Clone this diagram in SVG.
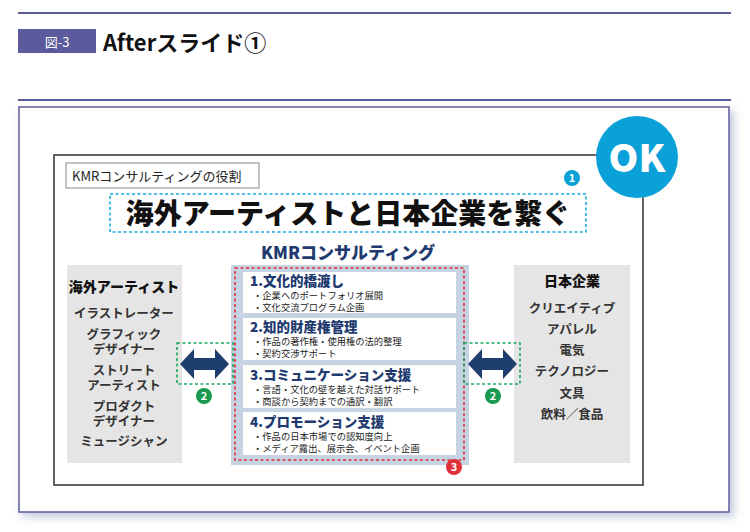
<svg xmlns="http://www.w3.org/2000/svg" width="750" height="532" viewBox="0 0 750 532">
<defs>
<style>
text{font-family:"Noto Sans CJK JP","Liberation Sans",sans-serif}
.rule{stroke:#5c5e9c;stroke-width:2}
.item{font-size:12.5px;font-weight:bold;fill:#333;text-anchor:middle}
.bh{font-size:13.5px;font-weight:900;fill:#1e3a6e}
.bl{font-size:9.3px;fill:#222}
.wb{fill:#fff}
.grn{fill:none;stroke:#1aa860;stroke-width:1.6;stroke-dasharray:3 2.5}
.num{font-size:11px;font-weight:bold;fill:#fff;text-anchor:middle}
.arr{fill:#1e3f6e}
</style>
<filter id="sh" x="-5%" y="-5%" width="115%" height="115%"><feDropShadow dx="4" dy="4" stdDeviation="4" flood-color="#8890c0" flood-opacity="0.5"/></filter>
</defs>
<rect width="750" height="532" fill="#fff"/>
<g id="header">
<line class="rule" x1="18" y1="13" x2="731" y2="13"/>
<line class="rule" x1="18" y1="100" x2="731" y2="100"/>
<rect x="18" y="29" width="78" height="24" fill="#5a5a9c"/>
<text x="57" y="47" font-size="13" fill="#fff" text-anchor="middle">図-3</text>
<text x="103" y="51" font-size="22" font-weight="bold" fill="#111">Afterスライド①</text>
</g>
<g id="frame">
<rect x="19" y="107" width="710" height="405" fill="#fff" stroke="#5c5e9c" stroke-width="1.5" filter="url(#sh)"/>
<rect x="54" y="155" width="589" height="330" fill="#fff" stroke="#333" stroke-width="1.5"/>
</g>
<g id="ok">
<circle cx="637" cy="157" r="41" fill="#0aa0d8"/>
<text x="637" y="172" font-size="38" font-weight="900" fill="#fff" text-anchor="middle" font-family="Liberation Sans,sans-serif">OK</text>
</g>
<g id="role-label">
<rect x="66" y="163" width="193" height="25" fill="#fff" stroke="#888" stroke-width="1"/>
<text x="72" y="181" font-size="13" fill="#222">KMRコンサルティングの役割</text>
</g>
<g id="headline">
<rect x="110" y="194" width="476" height="38" fill="none" stroke="#1aa8e0" stroke-width="1.6" stroke-dasharray="3 2.5"/>
<text x="348" y="224" font-size="28" font-weight="900" fill="#111" text-anchor="middle">海外アーティストと日本企業を繋ぐ</text>
<circle cx="572" cy="178" r="8" fill="#0aa0d8"/><text class="num" x="572" y="182">1</text>
</g>
<g id="left-panel">
<rect x="67" y="265" width="115" height="198" fill="#e5e5e5"/>
<text x="124" y="292" font-size="14" font-weight="900" fill="#111" text-anchor="middle">海外アーティスト</text>
<text class="item" x="124" y="318">イラストレーター</text>
<text class="item" x="124" y="339">グラフィック</text>
<text class="item" x="124" y="354">デザイナー</text>
<text class="item" x="124" y="375">ストリート</text>
<text class="item" x="124" y="390">アーティスト</text>
<text class="item" x="124" y="411">プロダクト</text>
<text class="item" x="124" y="426">デザイナー</text>
<text class="item" x="124" y="446">ミュージシャン</text>
</g>
<g id="right-panel">
<rect x="514" y="265" width="116" height="198" fill="#e5e5e5"/>
<text x="572" y="286" font-size="14" font-weight="900" fill="#111" text-anchor="middle">日本企業</text>
<text class="item" x="572" y="313">クリエイティブ</text>
<text class="item" x="572" y="334">アパレル</text>
<text class="item" x="572" y="355">電気</text>
<text class="item" x="572" y="376">テクノロジー</text>
<text class="item" x="572" y="398">文具</text>
<text class="item" x="572" y="419">飲料／食品</text>
</g>
<g id="center">
<text x="348" y="259" font-size="17" font-weight="900" fill="#1e3a6e" text-anchor="middle">KMRコンサルティング</text>
<rect x="231" y="265" width="238" height="200" fill="#c5d3e3"/>
<rect class="wb" x="243" y="272" width="213" height="41"/>
<rect class="wb" x="243" y="318" width="213" height="42"/>
<rect class="wb" x="243" y="365" width="213" height="43"/>
<rect class="wb" x="243" y="412" width="213" height="43"/>
<rect x="235" y="268" width="229" height="192" fill="none" stroke="#e0303a" stroke-width="1.6" stroke-dasharray="3 2.5"/>
<text class="bh" x="250" y="286">1.文化的橋渡し</text>
<text class="bl" x="253" y="299">・企業へのポートフォリオ展開</text>
<text class="bl" x="253" y="311">・文化交流プログラム企画</text>
<text class="bh" x="250" y="332">2.知的財産権管理</text>
<text class="bl" x="253" y="345">・作品の著作権・使用権の法的整理</text>
<text class="bl" x="253" y="357">・契約交渉サポート</text>
<text class="bh" x="250" y="380">3.コミュニケーション支援</text>
<text class="bl" x="253" y="393">・言語・文化の壁を越えた対話サポート</text>
<text class="bl" x="253" y="405">・商談から契約までの通訳・翻訳</text>
<text class="bh" x="250" y="427">4.プロモーション支援</text>
<text class="bl" x="253" y="440">・作品の日本市場での認知度向上</text>
<text class="bl" x="253" y="452">・メディア露出、展示会、イベント企画</text>
<circle cx="454" cy="467" r="8" fill="#e0303a"/><text class="num" x="454" y="471">3</text>
</g>
<g id="connectors">
<rect class="grn" x="177" y="343" width="56" height="41"/>
<path class="arr" d="M180 364 L194 349 L194 358 L215 358 L215 349 L229 364 L215 379 L215 370 L194 370 L194 379 Z"/>
<circle cx="204" cy="396" r="8" fill="#1a9a50"/><text class="num" x="204" y="400">2</text>
<rect class="grn" x="464" y="343" width="56" height="41"/>
<path class="arr" d="M468 364 L482 349 L482 358 L503 358 L503 349 L517 364 L503 379 L503 370 L482 370 L482 379 Z"/>
<circle cx="493" cy="396" r="8" fill="#1a9a50"/><text class="num" x="493" y="400">2</text>
</g>
</svg>
